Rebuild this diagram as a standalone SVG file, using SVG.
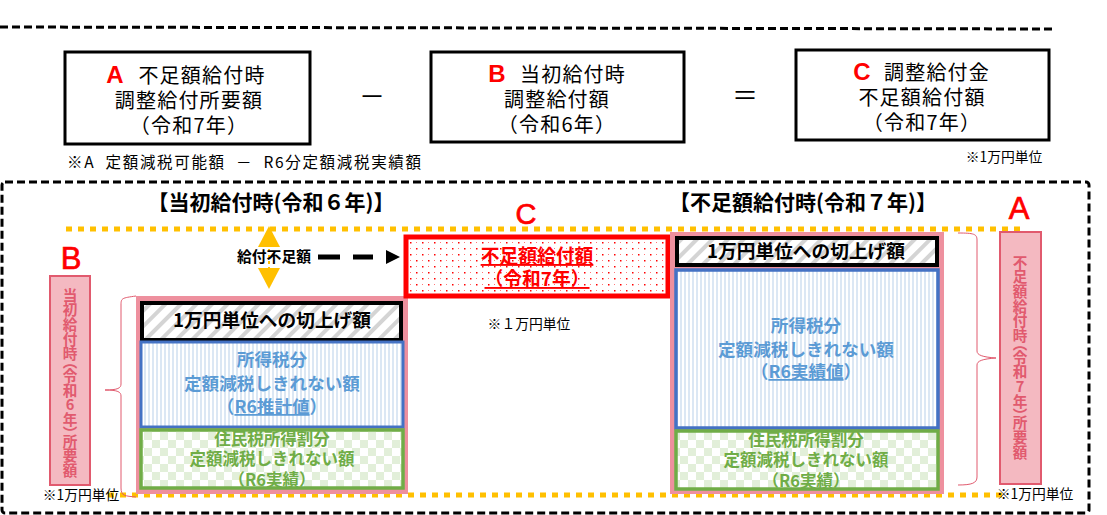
<svg xmlns="http://www.w3.org/2000/svg" width="1107" height="515" viewBox="0 0 1107 515">
<style>
text{font-family:"Noto Sans CJK JP","Noto Sans",sans-serif;text-anchor:middle;fill:#000}
.k{font-size:20px;letter-spacing:1.2px}
.l{font-family:"Liberation Sans",sans-serif;fill:#f00;font-size:24px;font-weight:700}
.big{font-weight:400;stroke:#f00;stroke-width:.7}
.h{font-size:21px;font-weight:700}
.n{font-size:13.8px}
.up{font-size:18.7px;font-weight:700}
.bl{font-size:17.6px;font-weight:700;fill:#5b9bd5}
.gr{font-size:16.5px;font-weight:700;fill:#70ad47}
.re{font-size:18.8px;font-weight:700;fill:#f00}
.v{font-size:14.6px;font-weight:700;fill:#e15a6e;writing-mode:vertical-rl;text-orientation:upright;text-anchor:start;font-feature-settings:"vpal"}
.box{fill:#fff;stroke:#000;stroke-width:3}
.dash{fill:none;stroke:#000;stroke-width:3;stroke-dasharray:8 4}
.dot{fill:none;stroke:#ffc000;stroke-width:5;stroke-dasharray:6 6}
.pk{fill:#ee909e}
.lab{fill:#f4b9c1;stroke:#e15a6e;stroke-width:2}
.br{fill:none;stroke:#e15a6e;stroke-width:1}
</style>
<defs>
<pattern id="hat" width="11" height="11" patternUnits="userSpaceOnUse" patternTransform="rotate(45)"><rect width="11" height="11" fill="#fff"/><rect width="4" height="11" fill="#d4d4d4"/></pattern>
<pattern id="str" width="4" height="4" patternUnits="userSpaceOnUse"><rect width="4" height="4" fill="#fff"/><rect width="2" height="4" fill="#dbe7f4"/></pattern>
<pattern id="chk" width="16" height="16" patternUnits="userSpaceOnUse"><rect width="16" height="16" fill="#fff"/><rect width="8" height="8" fill="#e2efd9"/><rect x="8" y="8" width="8" height="8" fill="#e2efd9"/></pattern>
<pattern id="dts" width="12" height="12" patternUnits="userSpaceOnUse"><rect width="12" height="12" fill="#fff"/><rect x="2" y="2" width="1.5" height="1.5" fill="#f00"/><rect x="8" y="8" width="1.5" height="1.5" fill="#f00"/><rect x="8" y="2" width="1" height="1" fill="#f77"/><rect x="2" y="8" width="1" height="1" fill="#f77"/></pattern>
</defs>
<g id="connectors">
<path class="dash" d="M0 27L1054 29"/>
<rect class="dash" x="2" y="182" width="1087" height="331" rx="3"/>
<path class="dot" d="M66 229H1020"/>
<path class="dot" d="M108 495H1006"/>
<path class="br" d="M136 296C122 298 121 298 121 305V384C121 388 118 390 105 390C118 390 121 392 121 396V488C121 496 125 496 136 497"/>
<path class="br" d="M958 233C974 233 977 234 977 240V351C977 355 982 357 996 358C982 359 977 361 977 365V477C977 483 972 485 958 485"/>
<path d="M269 231V286" stroke="#ffc000" stroke-width="2" stroke-dasharray="3 3"/>
<path d="M269 226L280 247H258Z" fill="#ffc000"/>
<path d="M269 289L280 268H258Z" fill="#ffc000"/>
<path d="M318 257H340M353 257H373" stroke="#000" stroke-width="5"/>
<path d="M386 250L400 257L386 264Z" fill="#000"/>
</g>
<g id="node-a"><rect class="box" x="65" y="52" width="245" height="92"/>
<text class="l" x="115" y="83">A</text><text class="k" x="202" y="83">不足額給付時</text><text class="k" x="189" y="108">調整給付所要額</text><text class="k" x="189" y="133">（令和7年）</text></g>
<g id="minus"><text x="372" y="106" font-size="26">－</text></g>
<g id="node-b"><rect class="box" x="431" y="52" width="253" height="90"/>
<text class="l" x="497" y="82">B</text><text class="k" x="573" y="82">当初給付時</text><text class="k" x="557" y="107">調整給付額</text><text class="k" x="557" y="132">（令和6年）</text></g>
<g id="equals"><text x="745" y="105" font-size="26">＝</text></g>
<g id="node-c"><rect class="box" x="796" y="50" width="253" height="90"/>
<text class="l" x="862" y="80">C</text><text class="k" x="937" y="80">調整給付金</text><text class="k" x="922" y="105">不足額給付額</text><text class="k" x="922" y="130">（令和7年）</text></g>
<g id="notes">
<text x="244" y="168" font-size="15.5" textLength="354" lengthAdjust="spacing" xml:space="preserve">※A  定額減税可能額  －  R6分定額減税実績額</text>
<text class="n" x="1004" y="162">※1万円単位</text>
<text class="n" x="529" y="329">※１万円単位</text>
<text class="n" x="81" y="500">※1万円単位</text>
<text class="n" x="1035" y="499">※1万円単位</text>
</g>
<g id="headings">
<text class="h" x="271" y="210">【当初給付時(令和６年)】</text>
<text class="h" x="803" y="210">【不足額給付時(令和７年)】</text>
<text x="274" y="262" font-size="14.8" font-weight="700">給付不足額</text>
<text class="l big" x="526" y="224" style="font-size:29px">C</text>
<text class="l big" x="1019" y="219" style="font-size:31px">A</text>
<text class="l big" x="71" y="269" style="font-size:31px">B</text>
</g>
<g id="left-stack">
<rect class="pk" x="136" y="296" width="272" height="198"/>
<rect x="142" y="303" width="259" height="37" fill="url(#hat)" stroke="#000" stroke-width="4"/>
<text class="up" x="272" y="327">1万円単位への切上げ額</text>
<rect x="141" y="342" width="262" height="85" fill="url(#str)" stroke="#4472c4" stroke-width="3"/>
<text class="bl" x="272" y="366">所得税分</text><text class="bl" x="272" y="390">定額減税しきれない額</text>
<text class="bl" x="272" y="413">（<tspan text-decoration="underline">R6推計値</tspan>）</text>
<rect x="141" y="430" width="262" height="58" fill="url(#chk)" stroke="#70ad47" stroke-width="3.5"/>
<text class="gr" x="272" y="445">住民税所得割分</text><text class="gr" x="272" y="465">定額減税しきれない額</text><text class="gr" x="272" y="486">（R6実績）</text>
</g>
<g id="red-box"><rect x="406" y="237" width="262" height="59" fill="url(#dts)" stroke="#f00" stroke-width="5"/>
<text class="re" x="537" y="263" text-decoration="underline">不足額給付額</text>
<text class="re" x="537" y="286" text-decoration="underline">（令和7年）</text></g>
<g id="right-stack">
<rect class="pk" x="670" y="232" width="274" height="262"/>
<rect x="677" y="238" width="260" height="27" fill="url(#hat)" stroke="#000" stroke-width="4"/>
<text class="up" x="806" y="258">1万円単位への切上げ額</text>
<rect x="676" y="270" width="262" height="158" fill="url(#str)" stroke="#4472c4" stroke-width="3.5"/>
<text class="bl" x="806" y="332">所得税分</text><text class="bl" x="806" y="356">定額減税しきれない額</text>
<text class="bl" x="806" y="378">（<tspan text-decoration="underline">R6実績値</tspan>）</text>
<rect x="676" y="431" width="262" height="58" fill="url(#chk)" stroke="#70ad47" stroke-width="3.5"/>
<text class="gr" x="806" y="446">住民税所得割分</text><text class="gr" x="806" y="466">定額減税しきれない額</text><text class="gr" x="806" y="487">（R6実績）</text>
</g>
<g id="label-b"><rect class="lab" x="50" y="276" width="40" height="209"/>
<text class="v" x="70" y="288">当初給付時（令和6年）所要額</text></g>
<g id="label-a"><rect class="lab" x="1000" y="232" width="41" height="252"/>
<text class="v" x="1020" y="255">不足額給付時（令和7年）所要額</text></g>
</svg>
